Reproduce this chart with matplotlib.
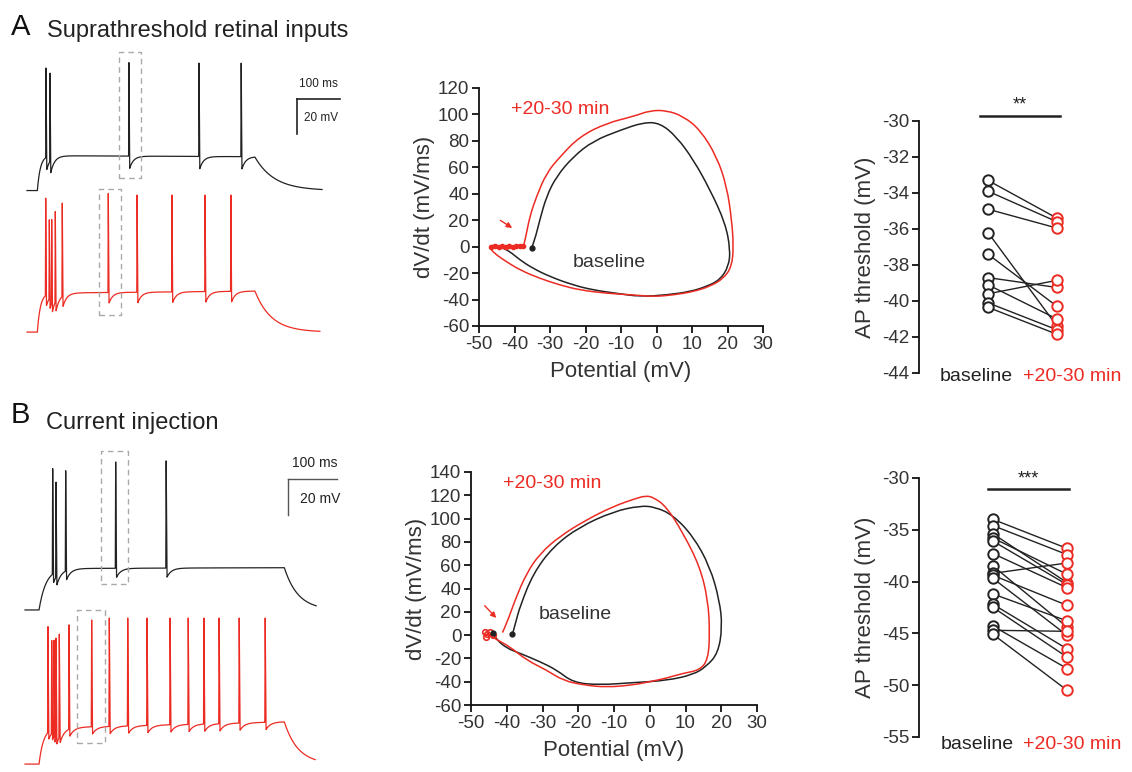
import numpy as np
import matplotlib.pyplot as plt
from matplotlib.path import Path
from matplotlib.patches import PathPatch

plt.rcParams['font.family'] = ['Liberation Sans', 'DejaVu Sans']
plt.rcParams['axes.unicode_minus'] = False

W, H = 1132, 772
BLACK = '#222222'
RED = '#ec2b23'
GREY = '#a9a9a9'

# ---------------- voltage traces (ms, mV) ----------------
# A: suprathreshold retinal inputs
a_blk_spikes = [44.2, 53.5, 237, 400, 498]
a_blk_peaks = [0.1, -3.1, 3.3, 3.0, 3.0]
a_red_spikes = [43.5, 51.9, 57.4, 65.8, 82, 189, 256, 337, 414, 474]
a_red_peaks = [6.6, -6.0, -6.0, -1.4, 3.7, 9.4, 8.5, 8.5, 8.5, 8.5]
# B: current injection
b_blk_spikes = [56.5, 63.3, 83, 185, 288]
b_blk_peaks = [8.3, 0.6, 7.2, 12.2, 12.8]
b_red_spikes = [46.9, 54.5, 59.2, 63.3, 70, 89.8, 136, 172, 209.6, 249, 296,
                333, 365, 396, 437, 490]
b_red_peaks = [6.1, -1.7, -1.7, -0.6, 1.7, 7.2, 10, 11.1, 11.1, 11.1, 11.1,
               11.1, 11.1, 11.1, 11.1, 11.1]

# ---------------- phase plots (V in mV, dV/dt in mV/ms) ----------------
pa_blk_v = [-35.2, -34.3, -32.9, -31, -28.2, -23.5, -17.8, -10.3, -3.7, 1, 5.7, 10.4,
            15.1, 19.4, 20.8, 20.3, 17.9, 14.2, 9.5, 2.9, -4.6, -11.2, -17.8, -23.5,
            -30, -34.8, -38.5, -41.3, -43.2]
pa_blk_dv = [-1.2, 5, 20, 38, 53, 68, 80, 88, 94, 93.5, 83, 65.7, 43, 17.7, -2.5, -15,
             -25, -30, -34, -36.5, -37.8, -35.3, -32.8, -29, -22.7, -16.4, -10, -3.7, -1.2]
pa_red_v = [-37.4, -36.8, -35.7, -33.8, -31, -27.2, -21.6, -14, -6.5, -1.8, 2.9, 7.6,
            12.3, 17, 19.8, 21.2, 21.7, 21.2, 18.9, 15.1, 10.4, 4.8, -0.9, -6.5, -14,
            -21.6, -27.2, -32.9, -38.5, -42.3, -45.1, -46.5]
pa_red_dv = [1, 7.6, 22.8, 38, 55.6, 68, 83.4, 93.5, 98.5, 103, 103, 98.5, 88.4, 68,
             45.5, 20, 0, -15, -24, -30, -34, -36.5, -37.8, -36.5, -35.3, -32.8, -29,
             -24, -17.6, -11.3, -6.2, -2.5]
pa_red_flat_v = [-46.5, -45.5, -44.5, -43.5, -42.5, -41.5, -40.5, -39.5, -38.5, -37.6]
pa_red_flat_dv = [0, 0.8, -0.5, 0.6, -0.3, 0.5, -0.4, 0.3, 0.2, 0.6]

pb_blk_v = [-38.4, -37.4, -36.3, -32.6, -27, -19.6, -10.2, -2.8, 1.5, 6.5, 12.1, 16.8,
            19.5, 20.3, 19.1, 15.8, 12.1, 4.7, -4.7, -14, -21.4, -26, -30.7, -36.3,
            -40, -42.8, -43.8]
pb_blk_dv = [0.8, 12, 24.5, 53, 76, 93, 106, 111, 110, 103, 85, 59, 30, 7, -15.6, -27,
             -34, -39, -40.8, -42.8, -40.8, -30, -22.8, -15.6, -11.3, -4, 1.6]
pb_red_v = [-41.2, -40, -37.7, -34.5, -30.7, -25.1, -17.7, -10.2, -3.7, -1.2, 0.9, 4.6,
            9.3, 14, 16.3, 16.8, 16.3, 14, 9.3, 4.6, 0, -4.7, -12.1, -18.6, -24.2,
            -28.9, -34.5, -39.1, -42.8, -45.6]
pb_red_dv = [2.2, 10, 30, 53, 70, 85, 99, 110.5, 117.5, 119.5, 118.5, 110.5, 87.7, 59,
             30, 1.6, -21, -30, -32.8, -37, -40, -42.8, -44.8, -42.8, -39, -30, -21.4,
             -10, -4, 1.6]
pb_red_cluster_v = [-46.2, -45.4, -44.6, -43.9, -45.8]
pb_red_cluster_dv = [2.5, 1.0, 2.8, 0.5, -1.5]

# ---------------- AP threshold pairs (mV) ----------------
thr_a_base = [-33.3, -33.9, -34.9, -36.2, -37.4, -38.7, -39.1, -39.6, -40.1, -40.35]
thr_a_post = [-35.4, -35.6, -35.95, -41.4, -40.3, -39.25, -41.0, -38.85, -41.6, -41.85]
thr_b_base = [-34.0, -34.6, -35.4, -35.8, -36.1, -37.3, -38.5, -39.2, -39.4, -39.7,
              -41.2, -42.2, -42.5, -44.3, -44.7, -45.1]
thr_b_post = [-36.8, -37.4, -40.1, -39.3, -40.3, -40.6, -44.4, -38.2, -42.3, -45.2,
              -43.8, -46.5, -47.3, -48.4, -44.8, -50.5]


def px_axes(fig, x0, y0, x1, y1):
    return fig.add_axes([x0 / W, 1 - y1 / H, (x1 - x0) / W, (y1 - y0) / H])


def make_trace(t, rest, plateau, plateau_end, t_on, t_off, tau_on, tau_off,
               spikes, peaks, ahp):
    v = np.full_like(t, rest)
    on = t >= t_on
    base = plateau + (plateau_end - plateau) * (t - t_on) / (t_off - t_on)
    v[on] = rest + (base[on] - rest) * (1 - np.exp(-(t[on] - t_on) / tau_on))
    for ts, pk in zip(spikes, peaks):
        b = np.interp(ts - 0.8, t, v)
        s = np.zeros_like(t)
        r = (t >= ts - 0.8) & (t < ts)
        s[r] = (pk - b) * (t[r] - ts + 0.8) / 0.8
        f = (t >= ts) & (t < ts + 1.8)
        s[f] = (pk - b) + (-ahp - (pk - b)) * (t[f] - ts) / 1.8
        rec = t >= ts + 1.8
        s[rec] = -ahp * np.exp(-(t[rec] - ts - 1.8) / 9)
        v = v + s
    off = t >= t_off
    v_off = np.interp(t_off, t, v)
    v[off] = rest + (v_off - rest) * np.exp(-(t[off] - t_off) / tau_off)
    return v


def smooth_line(ax, xs, ys, color, lw):
    # quadratic bezier through midpoints, read points act as control points
    pts = list(zip(xs, ys))
    verts = [pts[0]]
    codes = [Path.MOVETO]
    for i in range(1, len(pts) - 1):
        mid = ((pts[i][0] + pts[i + 1][0]) / 2, (pts[i][1] + pts[i + 1][1]) / 2)
        verts += [pts[i], mid]
        codes += [Path.CURVE3, Path.CURVE3]
    verts.append(pts[-1])
    codes.append(Path.LINETO)
    ax.add_patch(PathPatch(Path(verts, codes), fill=False, edgecolor=color, lw=lw))


def dashed_box(ax, x0, x1, y0, y1):
    ax.plot([x0, x1, x1, x0, x0], [y0, y0, y1, y1, y0], ls=(0, (4, 3)),
            color=GREY, lw=1.0)


fig = plt.figure(figsize=(W / 100, H / 100), dpi=100)

# panel headers
fig.text(11 / W, 1 - 35 / H, 'A', fontsize=21, color='#111111', va='baseline')
fig.text(47 / W, 1 - 37 / H, 'Suprathreshold retinal inputs', fontsize=17,
         color='#222222', va='baseline')
fig.text(11 / W, 1 - 423 / H, 'B', fontsize=21, color='#111111', va='baseline')
fig.text(46 / W, 1 - 429 / H, 'Current injection', fontsize=17,
         color='#222222', va='baseline')

# ---- A traces ----
ax = px_axes(fig, 20, 45, 350, 345)
ax.set_xlim(-16.3, 751)
ax.set_ylim(-158.5, 13.4)
ax.axis('off')
t = np.arange(0, 686, 0.05)
v = make_trace(t, -70, -50, -50.6, 24, 530, 7, 45, a_blk_spikes, a_blk_peaks, 7)
ax.plot(t, v, color=BLACK, lw=0.9)
t = np.arange(0, 681, 0.05)
v = make_trace(t, -70, -47.7, -46.5, 24, 530, 7, 38, a_red_spikes, a_red_peaks, 6)
ax.plot(t, v - 81.1, color=RED, lw=0.9)
dashed_box(ax, 214, 265, -62.6, 9.4)
dashed_box(ax, 167, 219, -141.4, -68.9)
ax.plot([628, 728], [-17.4, -17.4], color=BLACK, lw=1.2)
ax.plot([628, 628], [-17.4, -37.4], color=BLACK, lw=1.2)
ax.text(678, -12.5, '100 ms', fontsize=8.5, ha='center', va='bottom', color=BLACK)
ax.text(645, -28.3, '20 mV', fontsize=8.5, ha='left', va='center', color=BLACK)

# ---- B traces ----
ax = px_axes(fig, 15, 440, 350, 772)
ax.set_xlim(-20.4, 663)
ax.set_ylim(-160, 24.4)
ax.axis('off')
t = np.arange(0, 594, 0.05)
v = make_trace(t, -70, -47, -46.5, 28.6, 529, 14, 28, b_blk_spikes, b_blk_peaks, 5)
ax.plot(t, v, color=BLACK, lw=0.9)
t = np.arange(0, 592, 0.05)
v = make_trace(t, -70, -50, -46.5, 28.6, 529, 9, 28, b_red_spikes, b_red_peaks, 4)
ax.plot(t, v - 85.6, color=RED, lw=0.9)
dashed_box(ax, 155, 210, -55.6, 18.3)
dashed_box(ax, 106, 163, -143.9, -70)
ax.plot([537, 637], [2.8, 2.8], color='#555555', lw=1.0)
ax.plot([537, 537], [2.8, -17.2], color='#555555', lw=1.0)
ax.text(592, 8, '100 ms', fontsize=10, ha='center', va='bottom', color=BLACK)
ax.text(561, -8.3, '20 mV', fontsize=10, ha='left', va='center', color=BLACK)


def style_phase(ax, ymin, ymax):
    ax.set_xlim(-50, 30)
    ax.set_ylim(ymin, ymax)
    ax.set_xticks(range(-50, 31, 10))
    ax.set_yticks(range(ymin, ymax + 1, 20))
    for s in ['top', 'right']:
        ax.spines[s].set_visible(False)
    for s in ['left', 'bottom']:
        ax.spines[s].set_linewidth(1.3)
        ax.spines[s].set_color('#111111')
    ax.tick_params(direction='out', length=5, width=1.3, labelsize=13.5,
                   colors='#111111', labelcolor='#333333', pad=2)
    ax.set_xlabel('Potential (mV)', fontsize=16, color='#333333', labelpad=6)
    ax.set_ylabel('dV/dt (mV/ms)', fontsize=16, color='#333333', labelpad=2)
    ax.patch.set_alpha(0)


# ---- A phase plot ----
ax = px_axes(fig, 479, 88, 763, 326)
style_phase(ax, -60, 120)
smooth_line(ax, pa_blk_v, pa_blk_dv, BLACK, 1.1)
smooth_line(ax, pa_red_v, pa_red_dv, RED, 1.1)
ax.plot(pa_red_flat_v, pa_red_flat_dv, color=RED, lw=2.2, marker='o', ms=3)
ax.plot([pa_blk_v[0]], [pa_blk_dv[0]], 'o', color=BLACK, ms=3.5)
ax.annotate('', xy=(-40, 13), xytext=(-44.6, 21),
            arrowprops=dict(arrowstyle='-|>', color=RED, lw=1, mutation_scale=8))
ax.text(-40.9, 104, '+20-30 min', color=RED, fontsize=14, va='center')
ax.text(-23.5, -12, 'baseline', color='#333333', fontsize=14, va='center')

# ---- B phase plot ----
ax = px_axes(fig, 471, 472, 757, 705)
style_phase(ax, -60, 140)
smooth_line(ax, pb_blk_v, pb_blk_dv, BLACK, 1.1)
smooth_line(ax, pb_red_v, pb_red_dv, RED, 1.1)
ax.plot(pb_red_cluster_v, pb_red_cluster_dv, 'o', mfc='none', mec=RED, ms=4, mew=1.2)
ax.plot([pb_blk_v[0], pb_blk_v[-1]], [pb_blk_dv[0], pb_blk_dv[-1]], 'o',
        color=BLACK, ms=3.5)
ax.annotate('', xy=(-42.4, 13), xytext=(-46.7, 27),
            arrowprops=dict(arrowstyle='-|>', color=RED, lw=1, mutation_scale=8))
ax.text(-41, 130.5, '+20-30 min', color=RED, fontsize=14, va='center')
ax.text(-31.2, 17.4, 'baseline', color='#333333', fontsize=14, va='center')


def style_thr(ax, ymin, ymax, step):
    ax.set_xlim(-1.0, 1.55)
    ax.set_ylim(ymin, ymax)
    ax.set_yticks(range(ymin, ymax + 1, step))
    ax.set_xticks([])
    for s in ['top', 'right', 'bottom']:
        ax.spines[s].set_visible(False)
    ax.spines['left'].set_linewidth(1.3)
    ax.spines['left'].set_color('#111111')
    ax.tick_params(direction='out', length=5, width=1.3, labelsize=13.5,
                   colors='#111111', labelcolor='#333333', pad=2)
    ax.set_ylabel('AP threshold (mV)', fontsize=16, color='#333333', labelpad=4)
    ax.patch.set_alpha(0)


def draw_pairs(ax, base, post):
    for b, p in zip(base, post):
        ax.plot([0, 1], [b, p], color=BLACK, lw=1.0, zorder=1)
    ax.plot(np.zeros(len(base)), base, 'o', mfc='white', mec=BLACK, ms=7.5,
            mew=1.4, zorder=3, clip_on=False)
    ax.plot(np.ones(len(post)), post, 'o', mfc='white', mec=RED, ms=7.5,
            mew=1.4, zorder=3, clip_on=False)


# ---- A thresholds ----
ax = px_axes(fig, 919, 121, 1095, 373)
style_thr(ax, -44, -30, 2)
draw_pairs(ax, thr_a_base, thr_a_post)
ax.plot([-0.12, 1.04], [-29.72, -29.72], color=BLACK, lw=1.8, clip_on=False)
ax.text(0.46, -29.6, '**', fontsize=13, ha='center', va='bottom', color=BLACK)
ax.text(-0.17, -44.2, 'baseline', fontsize=14, ha='center', va='center', color=BLACK)
ax.text(1.22, -44.2, '+20-30 min', fontsize=14, ha='center', va='center', color=RED)

# ---- B thresholds ----
ax = px_axes(fig, 919, 478, 1108, 737)
style_thr(ax, -55, -30, 5)
draw_pairs(ax, thr_b_base, thr_b_post)
ax.plot([-0.07, 1.03], [-31.06, -31.06], color=BLACK, lw=1.8, clip_on=False)
ax.text(0.48, -30.9, '***', fontsize=13, ha='center', va='bottom', color=BLACK)
ax.text(-0.22, -55.7, 'baseline', fontsize=14, ha='center', va='center', color=BLACK)
ax.text(1.07, -55.7, '+20-30 min', fontsize=14, ha='center', va='center', color=RED)

fig.savefig('out.png', dpi=100)
